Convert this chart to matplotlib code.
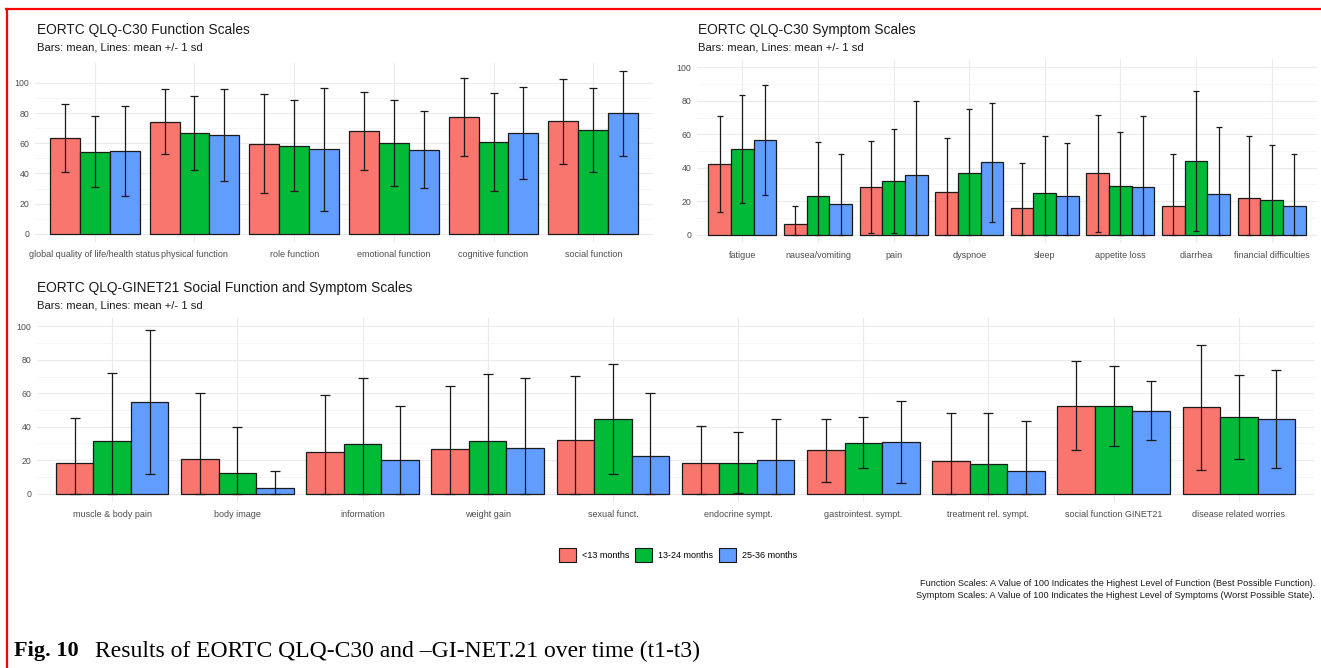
import numpy as np
import matplotlib
matplotlib.use("Agg")
import matplotlib.pyplot as plt
from matplotlib.patches import Patch
from matplotlib.lines import Line2D

GROUPS = ['<13 months', '13-24 months', '25-36 months']
COLORS = ['#F8766D', '#00BA38', '#619CFF']

# EORTC QLQ-C30 function scales
FUNC_CATS = ['global quality of life/health status', 'physical function', 'role function',
             'emotional function', 'cognitive function', 'social function']
FUNC_MEAN = [[63.5, 74.2, 59.6, 68.3, 77.2, 74.5],
             [54.5, 67.0, 58.5, 60.3, 60.9, 68.9],
             [55.0, 65.5, 56.0, 55.8, 66.7, 79.8]]
FUNC_SD = [[22.7, 21.5, 32.8, 25.7, 25.9, 28.1],
           [23.5, 24.5, 30.4, 28.6, 32.4, 27.9],
           [29.8, 30.5, 40.7, 25.7, 30.6, 27.9]]

# EORTC QLQ-C30 symptom scales
SYM_CATS = ['fatigue', 'nausea/vomiting', 'pain', 'dyspnoe', 'sleep',
            'appetite loss', 'diarrhea', 'financial difficulties']
SYM_MEAN = [[42.4, 6.4, 28.3, 25.3, 16.1, 36.7, 17.1, 22.1],
            [51.0, 23.3, 32.0, 36.7, 24.9, 29.1, 44.0, 20.7],
            [56.6, 18.1, 35.9, 43.2, 23.1, 28.3, 24.1, 16.9]]
SYM_SD = [[28.7, 10.9, 27.5, 32.5, 26.5, 35.0, 30.9, 37.1],
          [32.3, 32.3, 31.3, 38.4, 33.9, 32.5, 42.0, 32.7],
          [32.9, 30.3, 44.0, 35.7, 31.7, 42.8, 40.2, 31.3]]

# EORTC QLQ-GINET21
GI_CATS = ['muscle & body pain', 'body image', 'information', 'weight gain', 'sexual funct.',
           'endocrine sympt.', 'gastrointest. sympt.', 'treatment rel. sympt.',
           'social function GINET21', 'disease related worries']
GI_MEAN = [[18.6, 20.6, 24.6, 26.6, 32.2, 18.6, 25.8, 19.8, 52.4, 51.6],
           [31.4, 12.4, 29.8, 31.4, 44.6, 18.6, 30.4, 18.0, 52.6, 46.0],
           [54.8, 3.2, 20.0, 27.4, 22.4, 20.2, 31.0, 13.4, 49.6, 44.8]]
GI_SD = [[26.6, 39.6, 34.2, 38.0, 38.0, 22.0, 19.0, 28.6, 26.6, 37.2],
         [40.8, 27.2, 39.4, 40.2, 33.0, 18.5, 15.2, 30.0, 24.0, 25.0],
         [43.0, 10.6, 32.4, 41.8, 37.6, 24.6, 24.4, 30.0, 17.6, 29.2]]

W, H = 1321, 668
plt.rcParams['font.family'] = ['Liberation Sans', 'DejaVu Sans']
fig = plt.figure(figsize=(W / 100, H / 100), dpi=100)


def px_axes(left, top, right, bottom):
    return fig.add_axes([left / W, 1 - bottom / H, (right - left) / W, (bottom - top) / H])


def panel(ax, cats, means, sds, ylim, cap):
    x = np.arange(len(cats))
    bw = 0.3
    for j in range(3):
        m = np.array(means[j])
        s = np.array(sds[j])
        xs = x + (j - 1) * bw
        ax.bar(xs, m, width=bw, color=COLORS[j], edgecolor='#1a1a1a', linewidth=0.9, zorder=2)
        lo = np.clip(m - s, 0, None)
        hi = m + s
        ax.errorbar(xs, m, yerr=[m - lo, hi - m], fmt='none', ecolor='#1a1a1a',
                    elinewidth=0.9, capsize=cap, capthick=0.9, zorder=3)
    ax.set_xlim(-0.6, len(cats) - 0.4)
    ax.set_ylim(*ylim)
    ax.set_yticks([0, 20, 40, 60, 80, 100])
    ax.set_yticks(np.arange(10, 110, 20), minor=True)
    ax.set_xticks(x)
    ax.set_xticklabels(cats)
    ax.grid(True, which='major', color='#EBEBEB', linewidth=0.8, zorder=0)
    ax.grid(True, which='minor', axis='y', color='#F2F2F2', linewidth=0.5, zorder=0)
    for sp in ax.spines.values():
        sp.set_visible(False)
    ax.tick_params(which='both', length=0, labelsize=6.3, colors='#4D4D4D', pad=4)
    ax.tick_params(axis='x', labelsize=6.5, pad=6)


ax1 = px_axes(35, 63, 653, 242)
panel(ax1, FUNC_CATS, FUNC_MEAN, FUNC_SD, (-5.4, 113.2), 2.8)
ax2 = px_axes(697, 59, 1317, 243)
panel(ax2, SYM_CATS, SYM_MEAN, SYM_SD, (-5, 105), 2.2)
ax3 = px_axes(37, 318, 1314, 502)
panel(ax3, GI_CATS, GI_MEAN, GI_SD, (-5, 105), 3.3)

sub = 'Bars: mean, Lines: mean +/- 1 sd'
for x0, y0, t in [(37, 30, 'EORTC QLQ-C30 Function Scales'),
                  (698, 30, 'EORTC QLQ-C30 Symptom Scales'),
                  (37, 288, 'EORTC QLQ-GINET21 Social Function and Symptom Scales')]:
    fig.text(x0 / W, 1 - y0 / H, t, fontsize=9.9, color='#1a1a1a', va='center')
    fig.text(x0 / W, 1 - (y0 + 17) / H, sub, fontsize=8.1, color='#1a1a1a', va='center')

handles = [Patch(facecolor=c, edgecolor='#1a1a1a', linewidth=0.8) for c in COLORS]
fig.legend(handles, GROUPS, loc='center', bbox_to_anchor=(678 / W, 1 - 555 / H), ncol=3,
           frameon=False, fontsize=6.5, handlelength=1.9, handleheight=1.9,
           handletextpad=0.6, columnspacing=0.7)

fig.text(1315 / W, 1 - 584 / H,
         'Function Scales: A Value of 100 Indicates the Highest Level of Function (Best Possible Function).',
         fontsize=6.6, ha='right', va='center', color='#1a1a1a')
fig.text(1315 / W, 1 - 595 / H,
         'Symptom Scales: A Value of 100 Indicates the Highest Level of Symptoms (Worst Possible State).',
         fontsize=6.6, ha='right', va='center', color='#1a1a1a')

# caption and red frame
fig.text(14 / W, 1 - 651 / H, 'Fig. 10', fontsize=16, fontweight='bold',
         family='Liberation Serif', va='center')
fig.text(95 / W, 1 - 651 / H, 'Results of EORTC QLQ-C30 and \u2013GI-NET.21 over time (t1-t3)',
         fontsize=17, family='Liberation Serif', va='center')
fig.add_artist(Line2D([6 / W, 1], [1 - 8.5 / H, 1 - 8.5 / H], color='red', linewidth=1.6))
fig.add_artist(Line2D([7 / W, 7 / W], [1 - 8.5 / H, 0], color='red', linewidth=1.6))

fig.savefig('out.png', dpi=100)
